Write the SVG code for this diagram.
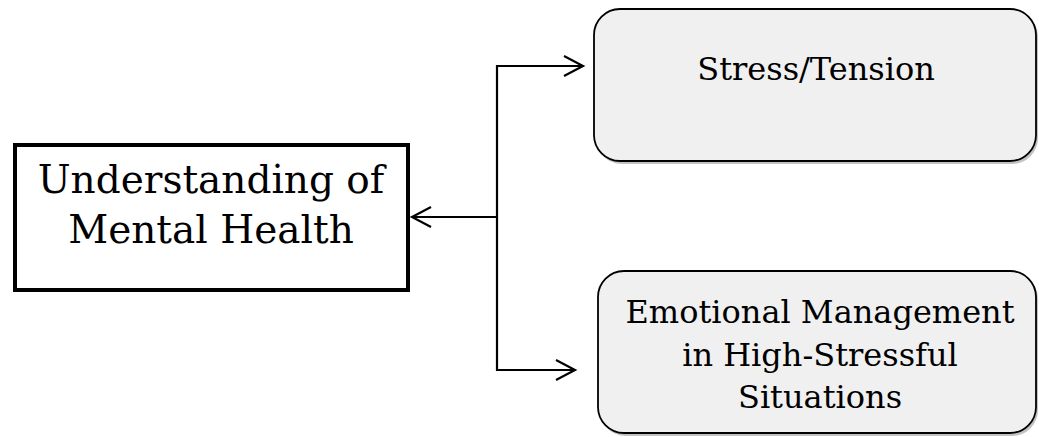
<svg xmlns="http://www.w3.org/2000/svg" width="1039" height="437" viewBox="0 0 1039 437">
<style>
.lbl{font-family:"DejaVu Serif","Liberation Serif",serif;fill:#000;text-anchor:middle}
.conn{fill:none;stroke:#000;stroke-width:2.2}
.rbox{fill:#f0f0f0;stroke:#000;stroke-width:1.8}
.shadow{fill:#777;opacity:0.45}
</style>
<defs>
<marker id="arr" markerWidth="24" markerHeight="24" refX="21" refY="11" orient="auto" markerUnits="userSpaceOnUse">
<path d="M2,1 L21,11 L2,21" fill="none" stroke="#000" stroke-width="2.2"/>
</marker>
</defs>
<rect width="1039" height="437" fill="#fff"/>
<g id="connectors">
<path class="conn" d="M497,217 L412,217" marker-end="url(#arr)"/>
<path class="conn" d="M497,217 L497,66 L583,66" marker-end="url(#arr)"/>
<path class="conn" d="M497,217 L497,370 L575,370" marker-end="url(#arr)"/>
</g>
<g id="node-understanding">
<rect x="15" y="145" width="393" height="145" fill="#fff" stroke="#000" stroke-width="4"/>
<text class="lbl" x="211" y="193" font-size="39">Understanding of</text>
<text class="lbl" x="211" y="243" font-size="39">Mental Health</text>
</g>
<g id="node-stress">
<rect class="shadow" x="596" y="11" width="442" height="153" rx="26"/>
<rect class="rbox" x="594" y="9" width="442" height="152" rx="26"/>
<text class="lbl" x="816" y="80" font-size="32">Stress/Tension</text>
</g>
<g id="node-emotional">
<rect class="shadow" x="600" y="273" width="438" height="163" rx="26"/>
<rect class="rbox" x="598" y="271" width="438" height="162" rx="26"/>
<text class="lbl" x="820" y="323" font-size="32">Emotional Management</text>
<text class="lbl" x="820" y="366" font-size="32">in High-Stressful</text>
<text class="lbl" x="820" y="408" font-size="32">Situations</text>
</g>
</svg>
